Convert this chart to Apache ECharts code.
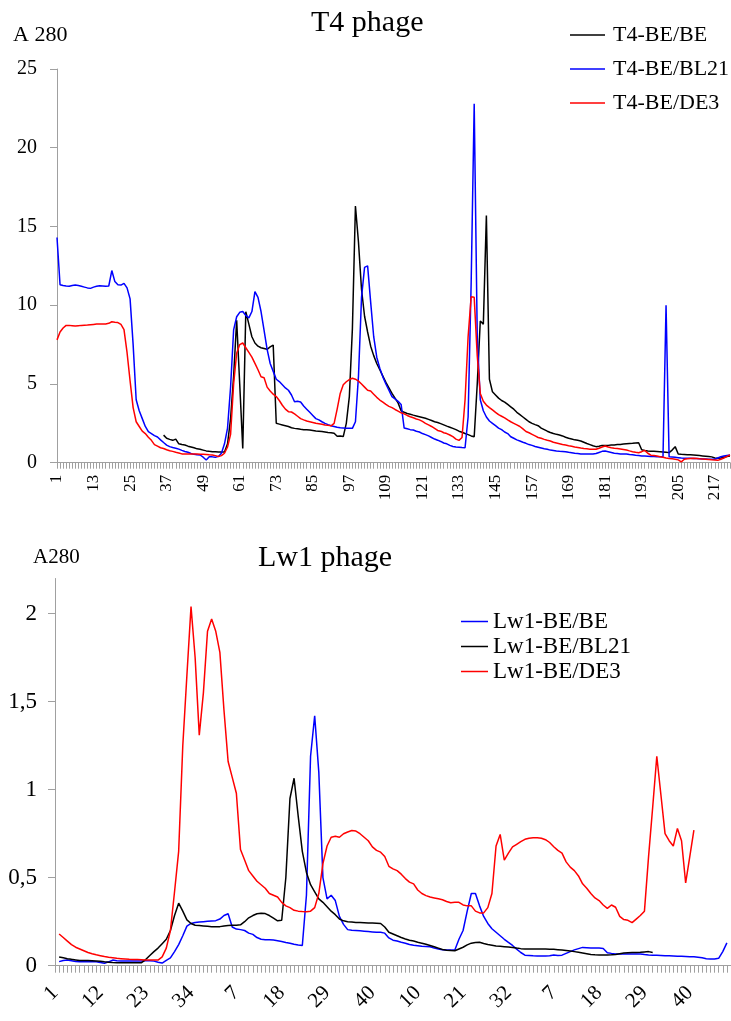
<!DOCTYPE html>
<html>
<head>
<meta charset="utf-8">
<script src="https://cdn.jsdelivr.net/npm/echarts@6/dist/echarts.min.js"></script>
<style>
html,body{margin:0;padding:0;background:#fff;}
#chart{width:731px;height:1021px;}
</style>
</head>
<body>
<div id="chart"></div>
<script>
// ---------- T4 phage (top panel) ----------
const t4Count = 222; // fractions 1..222
const t4Fractions = Array.from({length: t4Count}, (_, i) => String(i + 1));

const t4BE_BE = [null,null,null,null,null,null,null,null,null,null,
 null,null,null,null,null,null,null,null,null,null,
 null,null,null,null,null,null,null,null,null,null,
 null,null,null,null,null,1.75,1.55,1.48,1.42,1.5,
 1.2,1.15,1.12,1.05,1.0,0.95,0.88,0.85,0.8,0.75,
 0.72,0.7,0.69,0.68,0.68,0.68,1.2,2.8,5.5,9.05,
 5.0,0.91,9.59,8.8,8.0,7.6,7.4,7.3,7.25,7.2,
 7.35,7.47,2.5,2.45,2.4,2.35,2.3,2.22,2.18,2.15,
 2.12,2.1,2.1,2.08,2.05,2.02,2.0,1.98,1.95,1.92,
 1.9,1.87,1.68,1.7,1.66,2.5,4.2,8.5,16.3,14.0,
 11.0,9.3,8.3,7.4,6.8,6.3,5.9,5.5,5.1,4.75,
 4.4,4.1,3.8,3.3,3.2,3.12,3.08,3.02,2.97,2.92,
 2.87,2.82,2.75,2.68,2.6,2.55,2.48,2.4,2.32,2.25,
 2.18,2.1,2.0,1.93,1.85,1.78,1.7,1.65,5.0,9.0,
 8.8,15.7,5.3,4.5,4.3,4.1,3.95,3.85,3.7,3.55,
 3.4,3.2,3.05,2.9,2.75,2.6,2.5,2.42,2.35,2.2,
 2.1,2.0,1.92,1.85,1.8,1.76,1.7,1.62,1.55,1.5,
 1.45,1.42,1.38,1.3,1.22,1.15,1.08,1.02,1.05,1.1,
 1.1,1.1,1.12,1.13,1.15,1.16,1.18,1.2,1.22,1.23,
 1.25,1.27,0.82,0.78,0.75,0.73,0.72,0.71,0.7,0.68,
 0.66,0.64,0.8,1.02,0.55,0.53,0.52,0.51,0.5,0.49,
 0.47,0.45,0.43,0.41,0.39,0.37,0.3,0.28,0.3,0.35,
 0.4,0.43];

const t4BE_BL21 = [14.3,11.3,11.25,11.22,11.2,11.25,11.28,11.25,11.2,11.15,
 11.1,11.07,11.15,11.2,11.24,11.22,11.2,11.22,12.2,11.5,
 11.3,11.28,11.39,11.1,10.4,7.5,4.0,3.3,2.8,2.3,
 1.97,1.85,1.72,1.63,1.45,1.28,1.12,1.02,0.96,0.92,
 0.86,0.78,0.71,0.66,0.58,0.53,0.5,0.49,0.35,0.17,
 0.38,0.37,0.34,0.4,0.6,1.2,2.2,4.8,8.43,9.27,
 9.55,9.6,9.35,9.2,9.6,10.86,10.5,9.6,8.4,7.2,
 6.3,5.8,5.3,5.15,4.95,4.75,4.6,4.3,3.87,3.9,
 3.85,3.6,3.4,3.2,3.0,2.8,2.72,2.6,2.5,2.42,
 2.35,2.3,2.25,2.22,2.2,2.18,2.18,2.18,2.6,5.5,
 10.5,12.4,12.5,10.2,8.0,6.7,6.0,5.45,5.0,4.6,
 4.2,4.05,3.9,3.7,2.2,2.15,2.1,2.08,2.0,1.95,
 1.85,1.78,1.7,1.6,1.5,1.43,1.35,1.25,1.2,1.1,
 1.03,1.0,0.98,0.96,0.95,2.9,11.4,22.8,8.0,4.0,
 3.3,2.9,2.65,2.5,2.35,2.2,2.1,1.95,1.85,1.65,
 1.55,1.45,1.38,1.3,1.23,1.15,1.1,1.03,0.98,0.93,
 0.88,0.85,0.8,0.77,0.74,0.72,0.71,0.7,0.66,0.63,
 0.6,0.58,0.56,0.55,0.55,0.55,0.55,0.58,0.65,0.72,
 0.74,0.7,0.65,0.6,0.58,0.56,0.55,0.55,0.52,0.5,
 0.47,0.45,0.43,0.42,0.41,0.4,0.39,0.38,0.38,0.38,
 10.0,0.38,0.36,0.34,0.32,0.3,0.29,0.28,0.28,0.27,
 0.26,0.25,0.24,0.23,0.22,0.22,0.22,0.3,0.38,0.42,
 0.46,0.49];

const t4BE_DE3 = [7.8,8.3,8.55,8.72,8.72,8.7,8.68,8.7,8.72,8.73,
 8.74,8.76,8.78,8.8,8.81,8.81,8.81,8.85,8.95,8.92,
 8.9,8.78,8.45,7.0,5.2,3.5,2.6,2.3,2.0,1.85,
 1.62,1.42,1.15,1.05,0.95,0.9,0.82,0.76,0.72,0.66,
 0.62,0.56,0.55,0.55,0.55,0.55,0.55,0.54,0.53,0.52,
 0.5,0.49,0.45,0.4,0.45,0.6,1.0,1.8,5.0,6.95,
 7.5,7.6,7.3,7.0,6.7,6.31,5.9,5.46,5.4,4.8,
 4.55,4.35,4.2,3.95,3.65,3.4,3.24,3.22,3.1,2.95,
 2.8,2.72,2.65,2.6,2.55,2.5,2.47,2.44,2.4,2.37,
 2.34,2.5,3.4,4.4,4.95,5.14,5.28,5.36,5.3,5.18,
 5.0,4.8,4.6,4.55,4.35,4.15,3.98,3.85,3.7,3.58,
 3.5,3.38,3.28,3.17,3.1,3.0,2.92,2.85,2.78,2.72,
 2.62,2.5,2.4,2.3,2.18,2.05,2.0,1.9,1.85,1.76,
 1.65,1.5,1.42,1.6,4.0,8.0,10.54,10.5,6.8,4.4,
 3.9,3.66,3.5,3.35,3.2,3.05,2.95,2.85,2.72,2.6,
 2.5,2.4,2.3,2.15,1.98,1.9,1.8,1.7,1.6,1.55,
 1.48,1.42,1.38,1.3,1.25,1.2,1.15,1.12,1.08,1.05,
 1.0,0.97,0.93,0.9,0.88,0.86,0.85,0.85,0.92,1.0,
 1.06,1.0,0.95,0.92,0.9,0.87,0.84,0.81,0.75,0.7,
 0.66,0.63,0.7,0.78,0.6,0.48,0.45,0.42,0.38,0.34,
 0.3,0.27,0.25,0.22,0.18,0.05,0.22,0.25,0.27,0.28,
 0.27,0.25,0.24,0.22,0.2,0.18,0.17,0.15,0.22,0.3,
 0.4,0.49];

// ---------- Lw1 phage (bottom panel) ----------
const lw1RunLengths = [38, 41, 36, 50];
const lw1Fractions = [];
lw1RunLengths.forEach(n => { for (let k = 1; k <= n; k++) lw1Fractions.push(String(k)); });

const lw1BE_BE = [null,0.023,0.03,0.032,0.028,0.024,0.023,0.023,0.023,0.023,
 0.023,0.018,0.014,0.022,0.032,0.028,0.027,0.027,0.027,0.027,
 0.027,0.027,0.028,0.028,0.026,0.02,0.015,0.03,0.044,0.08,
 0.12,0.17,0.225,0.24,0.245,0.248,0.25,0.252,0.254,0.256,
 0.265,0.285,0.295,0.22,0.208,0.205,0.2,0.185,0.178,0.16,
 0.15,0.148,0.147,0.146,0.142,0.138,0.132,0.127,0.122,0.118,
 0.115,0.4,1.19,1.42,1.1,0.5,0.38,0.4,0.37,0.28,
 0.235,0.205,0.202,0.2,0.198,0.196,0.194,0.192,0.19,0.19,
 0.185,0.158,0.145,0.14,0.133,0.128,0.12,0.116,0.113,0.11,
 0.109,0.108,0.1,0.095,0.09,0.089,0.089,0.089,0.15,0.2,
 0.31,0.41,0.41,0.34,0.28,0.24,0.21,0.19,0.17,0.15,
 0.132,0.115,0.094,0.075,0.06,0.058,0.056,0.055,0.055,0.055,
 0.056,0.061,0.058,0.06,0.07,0.08,0.09,0.097,0.104,0.102,
 0.1,0.1,0.1,0.098,0.074,0.07,0.067,0.066,0.066,0.066,
 0.066,0.066,0.066,0.063,0.061,0.06,0.059,0.058,0.057,0.056,
 0.055,0.054,0.053,0.052,0.051,0.051,0.048,0.045,0.04,0.038,
 0.038,0.042,0.08,0.13];

const lw1BE_BL21 = [null,0.05,0.045,0.04,0.036,0.033,0.03,0.03,0.029,0.028,
 0.027,0.025,0.022,0.02,0.018,0.017,0.017,0.017,0.017,0.017,
 0.017,0.017,0.035,0.058,0.08,0.1,0.125,0.15,0.2,0.285,
 0.355,0.31,0.26,0.24,0.23,0.228,0.226,0.224,0.222,0.222,
 0.222,0.226,0.228,0.23,0.23,0.232,0.25,0.272,0.285,0.295,
 0.298,0.296,0.285,0.27,0.255,0.258,0.5,0.95,1.065,0.85,
 0.65,0.53,0.46,0.42,0.38,0.36,0.335,0.31,0.29,0.265,
 0.255,0.25,0.248,0.246,0.245,0.244,0.243,0.242,0.241,0.24,
 0.22,0.19,0.18,0.17,0.16,0.152,0.145,0.14,0.133,0.128,
 0.122,0.115,0.108,0.1,0.092,0.088,0.086,0.085,0.095,0.105,
 0.118,0.128,0.132,0.133,0.126,0.12,0.116,0.112,0.11,0.108,
 0.106,0.104,0.1,0.097,0.095,0.095,0.095,0.095,0.095,0.095,
 0.094,0.093,0.091,0.089,0.087,0.084,0.08,0.076,0.072,0.068,
 0.064,0.062,0.061,0.061,0.061,0.062,0.064,0.068,0.072,0.074,
 0.075,0.075,0.076,0.078,0.08,0.075];

const lw1BE_DE3 = [null,0.18,0.16,0.14,0.12,0.105,0.095,0.085,0.075,0.068,
 0.062,0.057,0.052,0.048,0.045,0.042,0.04,0.038,0.036,0.035,
 0.035,0.034,0.033,0.032,0.032,0.032,0.05,0.1,0.2,0.42,
 0.65,1.25,1.65,2.04,1.75,1.31,1.55,1.9,1.97,1.9,
 1.78,1.45,1.16,1.07,0.98,0.66,0.6,0.54,0.51,0.48,
 0.46,0.44,0.41,0.4,0.39,0.36,0.34,0.33,0.315,0.31,
 0.308,0.307,0.31,0.33,0.41,0.58,0.68,0.73,0.735,0.73,
 0.75,0.76,0.768,0.765,0.75,0.73,0.71,0.675,0.655,0.645,
 0.62,0.565,0.55,0.54,0.52,0.495,0.475,0.465,0.43,0.41,
 0.398,0.39,0.385,0.38,0.375,0.365,0.358,0.36,0.36,0.345,
 0.34,0.34,0.31,0.3,0.3,0.33,0.41,0.68,0.746,0.6,
 0.64,0.675,0.69,0.705,0.718,0.724,0.727,0.727,0.724,0.716,
 0.7,0.676,0.655,0.64,0.59,0.56,0.54,0.51,0.465,0.44,
 0.41,0.385,0.37,0.345,0.326,0.345,0.332,0.28,0.262,0.258,
 0.245,0.265,0.285,0.31,0.62,0.9,1.19,0.97,0.75,0.71,
 0.68,0.78,0.71,0.47,0.62,0.77];

const t4YTicks = [0, 5, 10, 15, 20, 25];
const lw1YTicks = [0, 0.5, 1, 1.5, 2];

// ---------- chart ----------
const FONT = "'Liberation Serif', 'Times New Roman', serif";
const AXIS_GREY = '#a0a0a0';
const chart = echarts.init(document.getElementById('chart'), null, {renderer: 'canvas'});

function lineSeries(name, data, color, idx) {
  return {
    name, type: 'line', data, xAxisIndex: idx, yAxisIndex: idx,
    showSymbol: false, symbol: 'none', connectNulls: false,
    lineStyle: {color, width: 1.5}, itemStyle: {color},
    emphasis: {disabled: true}, animation: false
  };
}

const option = {
  animation: false,
  backgroundColor: '#fff',
  textStyle: {fontFamily: FONT},
  grid: [
    {left: 57, right: 1, top: 69, height: 393.7, containLabel: false},
    {left: 55, right: 0, top: 578.5, height: 387.2, containLabel: false}
  ],
  xAxis: [
    {
      type: 'category', gridIndex: 0, data: t4Fractions, boundaryGap: false,
      axisLine: {lineStyle: {color: AXIS_GREY, width: 1}},
      axisTick: {show: true, interval: 0, length: 6, lineStyle: {color: AXIS_GREY}},
      axisLabel: {interval: 11, rotate: 90, margin: 12, color: '#000', fontSize: 17, fontFamily: FONT},
      splitLine: {show: false}
    },
    {
      type: 'category', gridIndex: 1, data: lw1Fractions, boundaryGap: false,
      axisLine: {lineStyle: {color: AXIS_GREY, width: 1}},
      axisTick: {show: true, interval: 0, length: 7, lineStyle: {color: AXIS_GREY}},
      axisLabel: {interval: 10, rotate: 45, margin: 24, color: '#000', fontSize: 21, fontFamily: FONT},
      splitLine: {show: false}
    }
  ],
  yAxis: [
    {
      type: 'value', gridIndex: 0, min: 0, max: 25, interval: 5,
      axisLine: {show: true, lineStyle: {color: AXIS_GREY, width: 1}},
      axisTick: {show: true, length: 7, lineStyle: {color: AXIS_GREY}},
      axisLabel: {margin: 20, color: '#000', fontSize: 20, fontFamily: FONT,
        customValues: t4YTicks},
      splitLine: {show: false}
    },
    {
      type: 'value', gridIndex: 1, min: 0, max: 2.2,
      axisLine: {show: true, lineStyle: {color: AXIS_GREY, width: 1}},
      axisTick: {show: true, length: 7, lineStyle: {color: AXIS_GREY}, customValues: lw1YTicks},
      axisLabel: {margin: 18, color: '#000', fontSize: 23, fontFamily: FONT,
        customValues: lw1YTicks,
        formatter: v => String(v).replace('.', ',')},
      splitLine: {show: false}
    }
  ],
  legend: [
    {
      data: ['T4-BE/BE', 'T4-BE/BL21', 'T4-BE/DE3'],
      orient: 'vertical', left: 570, top: 24, padding: 0,
      icon: 'rect', itemWidth: 35, itemHeight: 1.5, itemGap: 12,
      textStyle: {fontSize: 22, lineHeight: 22, color: '#000', fontFamily: FONT, padding: [0, 0, 0, 3]},
      selectedMode: false
    },
    {
      data: ['Lw1-BE/BE', 'Lw1-BE/BL21', 'Lw1-BE/DE3'],
      orient: 'vertical', left: 461, top: 610, padding: 0,
      icon: 'rect', itemWidth: 27, itemHeight: 1.5, itemGap: 2,
      textStyle: {fontSize: 23, lineHeight: 23, color: '#000', fontFamily: FONT},
      selectedMode: false
    }
  ],
  graphic: [
    {type: 'text', x: 311, y: 23, style: {text: 'T4 phage', font: '30px ' + FONT, fill: '#000', textVerticalAlign: 'middle'}},
    {type: 'text', x: 13, y: 35, style: {text: 'A 280', font: '22px ' + FONT, fill: '#000', textVerticalAlign: 'middle'}},
    {type: 'text', x: 258, y: 558, style: {text: 'Lw1 phage', font: '30px ' + FONT, fill: '#000', textVerticalAlign: 'middle'}},
    {type: 'text', x: 33, y: 557, style: {text: 'A280', font: '21px ' + FONT, fill: '#000', textVerticalAlign: 'middle'}}
  ],
  series: [
    lineSeries('T4-BE/BE', t4BE_BE, '#000000', 0),
    lineSeries('T4-BE/BL21', t4BE_BL21, '#0000ff', 0),
    lineSeries('T4-BE/DE3', t4BE_DE3, '#ff0000', 0),
    lineSeries('Lw1-BE/BE', lw1BE_BE, '#0000ff', 1),
    lineSeries('Lw1-BE/BL21', lw1BE_BL21, '#000000', 1),
    lineSeries('Lw1-BE/DE3', lw1BE_DE3, '#ff0000', 1)
  ]
};
chart.setOption(option);
</script>
</body>
</html>
